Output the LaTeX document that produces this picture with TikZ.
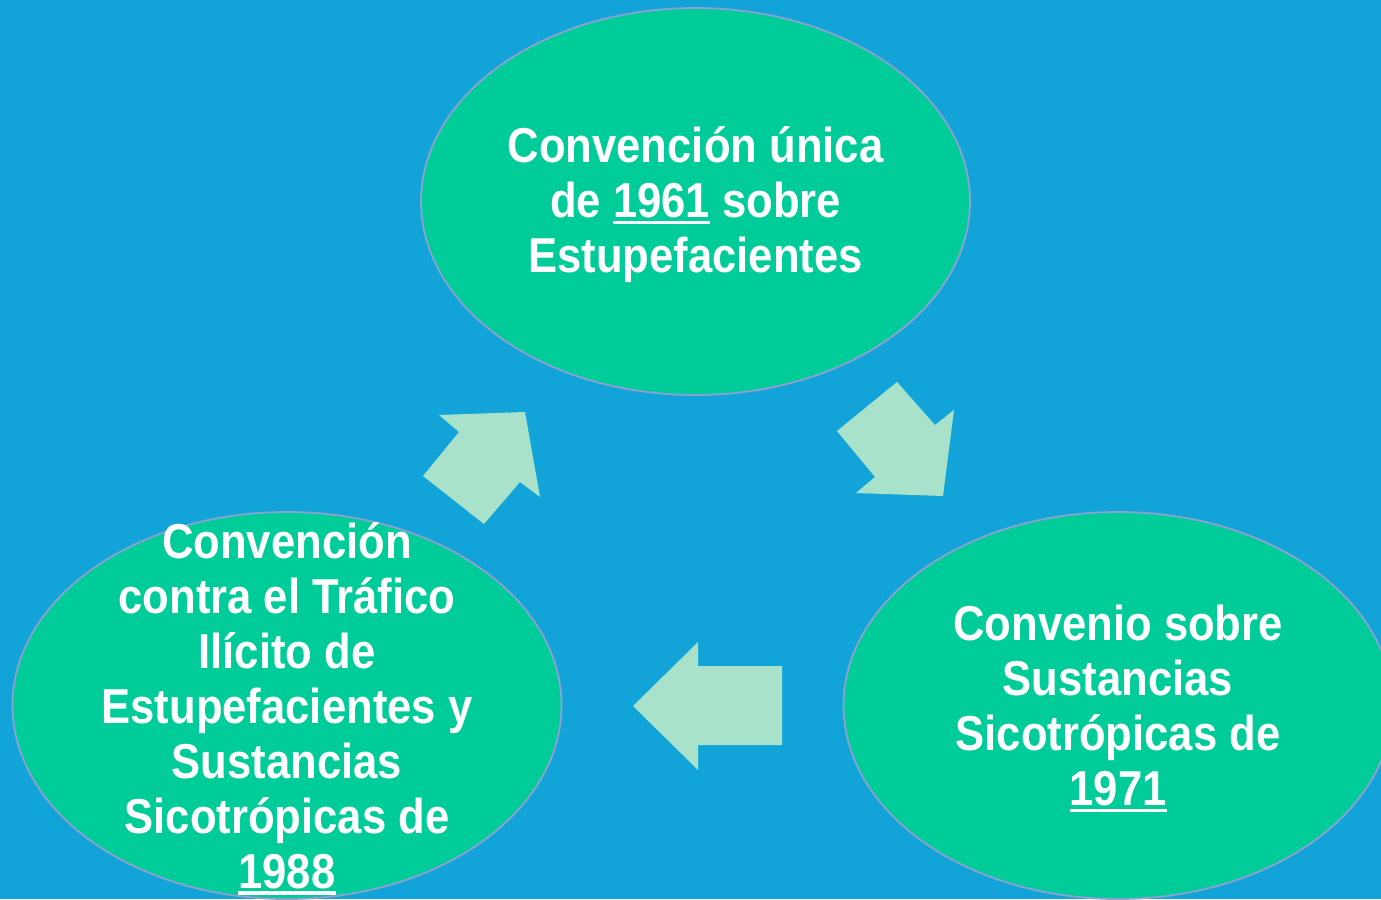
\documentclass[tikz,border=0pt]{standalone}
\usepackage{fontspec}
\newfontfamily\cvfont{Liberation Sans}[FakeStretch=0.89]
\usetikzlibrary{positioning, shapes.geometric}
\definecolor{bgblue}{RGB}{18,164,216}
\definecolor{circgreen}{RGB}{0,204,153}
\definecolor{arrowgreen}{RGB}{168,226,202}
\definecolor{rimblue}{RGB}{140,160,210}
\newcommand{\yearul}[1]{{\setbox0\hbox{#1}\rlap{\rule[-0.13em]{\wd0}{0.065em}}\box0}}

\begin{document}
\begin{tikzpicture}[x=1bp, y=-1bp,
	conv/.style={ellipse, draw=rimblue, line width=1.8bp, fill=circgreen, minimum width=549bp, minimum height=387bp, inner sep=0pt},
	convtext/.style={text=white, align=center, yshift=-3bp, font=\cvfont\bfseries\fontsize{49bp}{55bp}\selectfont},
	cyclearrow/.style={fill=arrowgreen, draw=none}
	]
	\path[use as bounding box, fill=bgblue] (0,0) rectangle (1381,899);
	
	% Define nodes
	\node[conv] (c1961) at (695.5,201.5) {};
	\node[convtext] (c1961txt) at (c1961.center) {Convención única\\de \yearul{1961} sobre\\Estupefacientes};
	\node[conv] (c1988) at (287,705.5) {};
	\node[convtext] (c1988txt) at (c1988.center) {Convención\\contra el Tráfico\\Ilícito de\\Estupefacientes y\\Sustancias\\Sicotrópicas de\\\yearul{1988}};
	\node[conv] (c1971) at (1118,705.5) {};
	\node[convtext] (c1971txt) at (c1971.center) {Convenio sobre\\Sustancias\\Sicotrópicas de\\\yearul{1971}};
	
	% Arrows
	\fill[cyclearrow] (439,415) -- (525,412) -- (540,497) -- (520,482) -- (484,524) -- (423,476) -- (459,432) -- cycle;
	\fill[cyclearrow] (897,382) -- (935,425) -- (954,410) -- (943,496) -- (856,493) -- (875,477) -- (837,431) -- cycle;
	\fill[cyclearrow] (633,706) -- (698,642) -- (698,666) -- (782,666) -- (782,745) -- (698,745) -- (698,770) -- cycle;
\end{tikzpicture}
\end{document}
